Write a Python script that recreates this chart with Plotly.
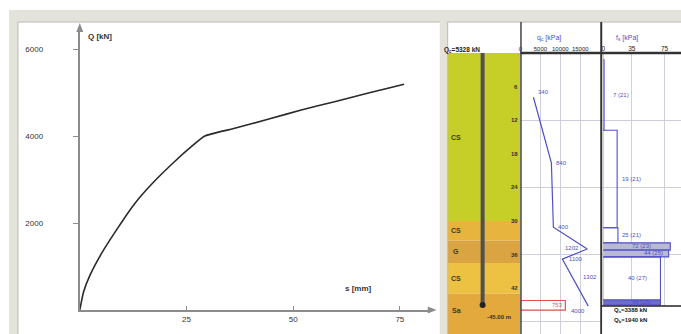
import plotly.graph_objects as go

# ---- load-settlement curve ----
settlement_mm = [0, 0.9, 2.4, 5.1, 9.0, 12.9, 17.6, 22.3, 26.2, 29.3, 36.3, 44.1, 51.9, 59.7, 67.4, 76.0]
load_kN = [0, 420, 800, 1300, 1900, 2450, 2970, 3420, 3760, 4000, 4177, 4384, 4598, 4789, 4981, 5188]
x_ticks = [25, 50, 75]
y_ticks = [2000, 4000, 6000]

# ---- soil profile ----
layer_top = [0, 30, 33.5, 37.5, 43]
layer_bottom = [30, 33.5, 37.5, 43, 50.5]
layer_name = ["CS", "CS", "G", "CS", "Sa"]
layer_color = ["#c6cf27", "#e7b53d", "#d9a441", "#edc142", "#e3a93c"]
pile_tip = 45.0
depth_ticks = [6, 12, 18, 24, 30, 36, 42]

# ---- cone resistance ----
qc_depth = [7.9, 19.6, 31.1, 35.0, 36.8, 45.2]
qc_kPa = [3250, 7750, 8250, 16750, 10500, 17000]
qc_notes = ["340", "840", "400", "1202", "1100", "4000"]
qc_tip_kPa = 11250
qc_tip_note = "753"
qc_ticks = [0, 5000, 10000, 15000]

# ---- sleeve friction (steps) ----
fs_top = [1.2, 13.8, 31.2, 33.9, 35.2, 36.4, 44.1]
fs_bottom = [13.8, 31.2, 33.9, 35.2, 36.4, 44.1, 45.0]
fs_kPa = [1, 17, 18, 82, 80, 70, 70]
fs_notes = ["7 (21)", "19 (21)", "25 (21)", "72 (23)", "44 (25)", "40 (27)", "98 (25)"]
fs_ticks = [0, 35, 75]

W, H = 681, 334
BLUE = "#4f4fc6"
FONT = "Liberation Sans"


def px(x):
    return x / W


def py(y):
    return 1 - y / H


fig = go.Figure()

# load-settlement curve
fig.add_trace(go.Scatter(x=settlement_mm, y=load_kN, mode="lines",
                         line=dict(color="#2a2a2a", width=1.6, shape="spline", smoothing=0.5),
                         xaxis="x", yaxis="y", hoverinfo="skip"))

# soil layers
for t, b, c, n in zip(layer_top, layer_bottom, layer_color, layer_name):
    fig.add_trace(go.Scatter(x=[0, 1, 1, 0, 0], y=[t, t, b, b, t], mode="lines",
                             fill="toself", fillcolor=c, line=dict(width=0),
                             xaxis="x4", yaxis="y2", hoverinfo="skip"))
    fig.add_annotation(x=0.12, y=(t + min(b, 49)) / 2, xref="x4", yref="y2", text=f"<b>{n}</b>",
                       showarrow=False, font=dict(size=7, color="#3a3a2a", family=FONT))

# depth labels along the right edge of the layer column
for d in depth_ticks:
    fig.add_annotation(x=1, y=d, xref="x4", yref="y2", text=f"<b>{d}</b>", xanchor="right",
                       showarrow=False, font=dict(size=6, color="#333", family=FONT))

# pile
fig.add_trace(go.Scatter(x=[0.48, 0.48], y=[0, pile_tip], mode="lines",
                         line=dict(color="#505050", width=4), xaxis="x4", yaxis="y2", hoverinfo="skip"))
fig.add_trace(go.Scatter(x=[0.48], y=[pile_tip], mode="markers",
                         marker=dict(color="#222", size=6), xaxis="x4", yaxis="y2", hoverinfo="skip"))

# tip cone resistance box
fig.add_trace(go.Scatter(x=[0, qc_tip_kPa, qc_tip_kPa, 0, 0],
                         y=[pile_tip - 0.8, pile_tip - 0.8, pile_tip + 0.9, pile_tip + 0.9, pile_tip - 0.8],
                         mode="lines", line=dict(color="#e05050", width=1.2),
                         xaxis="x2", yaxis="y2", hoverinfo="skip"))
fig.add_annotation(x=qc_tip_kPa, y=pile_tip, xref="x2", yref="y2", text=qc_tip_note, xanchor="right",
                   showarrow=False, font=dict(size=6, color="#e05050", family=FONT))

# cone resistance line
fig.add_trace(go.Scatter(x=qc_kPa, y=qc_depth, mode="lines", line=dict(color=BLUE, width=1.2),
                         xaxis="x2", yaxis="y2", hoverinfo="skip"))
note_shift = [(700, -1.0, "left"), (700, 0, "left"), (700, 0, "left"),
              (-1500, -0.2, "right"), (1200, 0, "left"), (-300, 0.9, "right")]
for q, d, s, (dx, dy, anc) in zip(qc_kPa, qc_depth, qc_notes, note_shift):
    fig.add_annotation(x=q + dx, y=d + dy, xref="x2", yref="y2", text=s, xanchor=anc,
                       showarrow=False, font=dict(size=6, color=BLUE, family=FONT))
fig.add_annotation(x=(qc_kPa[4] + qc_kPa[5]) / 2 + 1500, y=(qc_depth[4] + qc_depth[5]) / 2 - 1,
                   xref="x2", yref="y2", text="1302", xanchor="left",
                   showarrow=False, font=dict(size=6, color=BLUE, family=FONT))

# sleeve friction steps
fs_note_x = [10, 20, 20, 33, 47, 28, 33]
for i, (t, b, v) in enumerate(zip(fs_top, fs_bottom, fs_kPa)):
    band = i in (3, 4)
    last = i == len(fs_kPa) - 1
    fill = "toself" if (band or last) else "none"
    fc = "#b9b9d6" if band else "#6e6ec4"
    fig.add_trace(go.Scatter(x=[0, v, v, 0], y=[t, t, b, b], mode="lines",
                             fill=fill, fillcolor=fc, line=dict(color=BLUE, width=1.1),
                             xaxis="x3", yaxis="y2", hoverinfo="skip"))
for t, b, s, nx in zip(fs_top, fs_bottom, fs_notes, fs_note_x):
    fig.add_annotation(x=nx, y=(t + b) / 2, xref="x3", yref="y2", text=s, xanchor="left",
                       showarrow=False, font=dict(size=6, color=BLUE, family=FONT))

# ---- frame and panel decoration ----
axis_grey = "#8c8c8c"
shapes = []
# grey window bands
shapes.append(dict(type="rect", xref="paper", yref="paper", x0=px(7), x1=px(681), y0=py(22), y1=py(10),
                   fillcolor="#e3e3dc", line=dict(width=0), layer="below"))
shapes.append(dict(type="rect", xref="paper", yref="paper", x0=px(7), x1=px(16), y0=py(334), y1=py(10),
                   fillcolor="#e3e3dc", line=dict(width=0), layer="below"))
shapes.append(dict(type="rect", xref="paper", yref="paper", x0=px(439), x1=px(447), y0=py(334), y1=py(10),
                   fillcolor="#e3e3dc", line=dict(width=0), layer="below"))
for seg in [(16, 22, 439, 22), (16, 22, 16, 334), (447, 22, 681, 22), (447, 22, 447, 334)]:
    shapes.append(dict(type="line", xref="paper", yref="paper", x0=px(seg[0]), y0=py(seg[1]),
                       x1=px(seg[2]), y1=py(seg[3]), line=dict(color="#b9b9b2", width=1)))
# arrow heads of the load-settlement axes
shapes.append(dict(type="path", xref="paper", yref="paper",
                   path=f"M {px(436)} {py(310)} L {px(427)} {py(306.5)} L {px(427)} {py(313.5)} Z",
                   fillcolor=axis_grey, line=dict(width=0)))
shapes.append(dict(type="path", xref="paper", yref="paper",
                   path=f"M {px(78)} {py(23)} L {px(74.5)} {py(32)} L {px(81.5)} {py(32)} Z",
                   fillcolor=axis_grey, line=dict(width=0)))
# column dividers
shapes.append(dict(type="line", xref="paper", yref="paper", x0=px(520.5), x1=px(520.5), y0=py(22), y1=py(334),
                   line=dict(color="#444", width=1.5)))
shapes.append(dict(type="line", xref="paper", yref="paper", x0=px(601), x1=px(601), y0=py(22), y1=py(334),
                   line=dict(color="#333", width=2)))
shapes.append(dict(type="line", xref="paper", yref="paper", x0=px(520), x1=px(681), y0=py(53), y1=py(53),
                   line=dict(color="#333", width=2.5)))
# summary box under the friction column
shapes.append(dict(type="rect", xref="paper", yref="paper", x0=px(602), x1=px(681), y0=py(334), y1=py(306),
                   fillcolor="white", line=dict(width=0), layer="above"))
shapes.append(dict(type="line", xref="paper", yref="paper", x0=px(601), x1=px(681), y0=py(306), y1=py(306),
                   line=dict(color="#222", width=1.5), layer="above"))

fig.update_layout(shapes=shapes)

# titles of the load-settlement axes
fig.add_annotation(x=px(84), y=py(30), xref="paper", yref="paper", text="<b>Q [kN]</b>", xanchor="left",
                   showarrow=False, font=dict(size=8, color="#333", family=FONT))
fig.add_annotation(x=px(358), y=py(295), xref="paper", yref="paper", text="<b>s [mm]</b>",
                   showarrow=False, font=dict(size=8, color="#333", family=FONT))
# column headers
fig.add_annotation(x=px(481), y=py(44), xref="paper", yref="paper", text="<b>Q<sub>c</sub>=5328 kN</b>",
                   showarrow=False, font=dict(size=6.5, color="#222", family=FONT))
fig.add_annotation(x=px(563), y=py(32), xref="paper", yref="paper", text="q<sub>c</sub> [kPa]",
                   showarrow=False, font=dict(size=7, color=BLUE, family=FONT))
fig.add_annotation(x=px(640), y=py(32), xref="paper", yref="paper", text="f<sub>s</sub> [kPa]",
                   showarrow=False, font=dict(size=7, color=BLUE, family=FONT))
fig.add_annotation(x=px(649), y=py(316), xref="paper", yref="paper", text="<b>Q<sub>s</sub>=3388 kN</b>",
                   showarrow=False, font=dict(size=6, color="#222", family=FONT))
fig.add_annotation(x=px(649), y=py(326), xref="paper", yref="paper", text="<b>Q<sub>b</sub>=1940 kN</b>",
                   showarrow=False, font=dict(size=6, color="#222", family=FONT))
fig.add_annotation(x=0.7, y=pile_tip + 2.2, xref="x4", yref="y2", text="<b>-45.00 m</b>",
                   showarrow=False, font=dict(size=6, color="#333", family=FONT))

fig.update_layout(
    width=W, height=H, margin=dict(l=0, r=0, t=0, b=0),
    paper_bgcolor="white", plot_bgcolor="rgba(0,0,0,0)", showlegend=False,
    font=dict(family=FONT, size=8, color="#333"),
    xaxis=dict(domain=[px(78), px(430)], range=[0, 82.24], anchor="y",
               tickvals=x_ticks, ticks="inside", ticklen=4, tickcolor=axis_grey,
               showline=True, linecolor=axis_grey, linewidth=2, showgrid=False, zeroline=False,
               tickfont=dict(size=8, color="#333", family=FONT)),
    yaxis=dict(domain=[1 - 310 / H, 1 - 28 / H], range=[0, 6483], anchor="x",
               tickvals=y_ticks, ticks="outside", ticklen=5, tickcolor=axis_grey,
               showline=True, linecolor=axis_grey, linewidth=2, showgrid=False, zeroline=False,
               ticklabelstandoff=28, tickfont=dict(size=8, color="#333", family=FONT)),
    xaxis2=dict(domain=[px(520), px(601)], range=[0, 20250], anchor="y2", side="top",
                tickvals=qc_ticks, tickformat="d", ticks="", showgrid=True, gridcolor="#cfcfdc",
                gridwidth=1, zeroline=False, showline=False, ticklabelstandoff=0,
                tickfont=dict(size=6, color="#222", family=FONT)),
    xaxis3=dict(domain=[px(601), 1], range=[-2.44, 95.1], anchor="y2", side="top",
                tickvals=fs_ticks, ticks="", showgrid=True, gridcolor="#cfcfdc", gridwidth=1,
                zeroline=False, showline=False, ticklabelstandoff=0,
                tickfont=dict(size=6.5, color="#222", family=FONT)),
    xaxis4=dict(domain=[px(447), px(520)], range=[0, 1], anchor="y2", visible=False),
    yaxis2=dict(domain=[0, 1 - 53 / H], range=[50.18, 0], anchor="x2",
                showticklabels=False, ticks="", showgrid=False, zeroline=False, showline=False,
                minor=dict(tickvals=[12, 24, 36, 48], showgrid=True, gridcolor="#cfcfdc", gridwidth=1)),
)

fig.write_html("out.html")
